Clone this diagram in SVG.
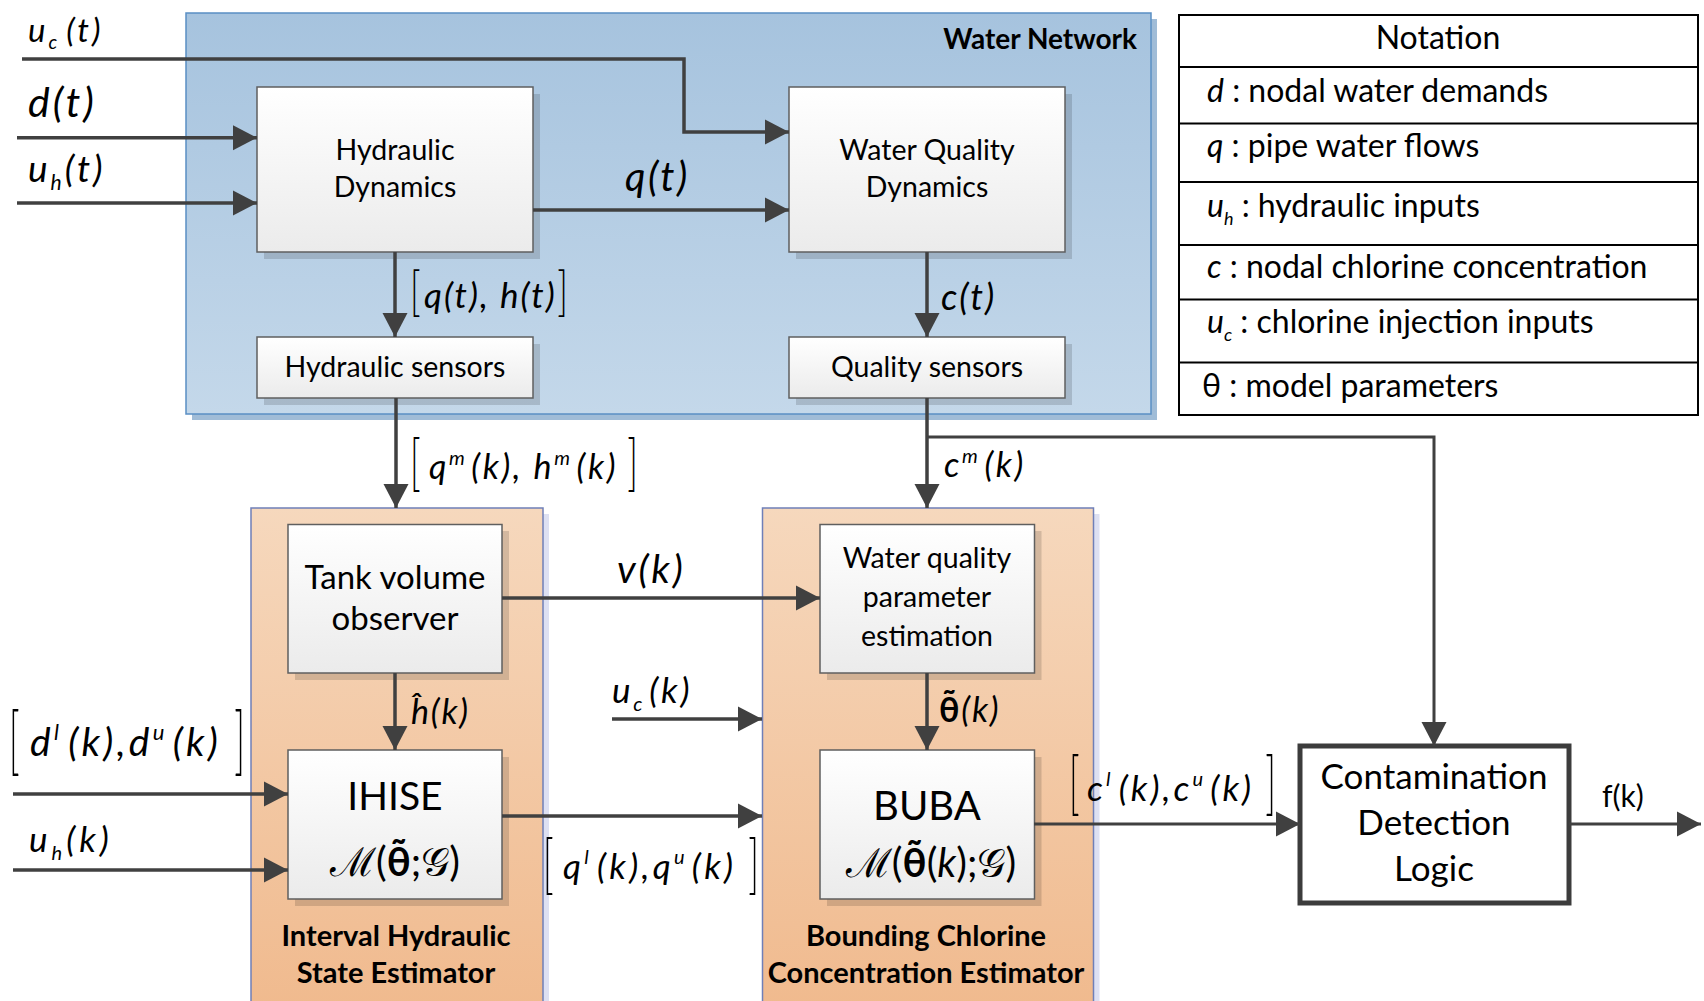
<svg xmlns="http://www.w3.org/2000/svg" width="1704" height="1001" viewBox="0 0 1704 1001">
<defs>
  <linearGradient id="gNode" x1="0" y1="0" x2="0" y2="1">
    <stop offset="0" stop-color="#ffffff"/>
    <stop offset="1" stop-color="#ebebeb"/>
  </linearGradient>
  <linearGradient id="gBlue" x1="0" y1="0" x2="0" y2="1">
    <stop offset="0" stop-color="#a6c3de"/>
    <stop offset="1" stop-color="#c4d8ea"/>
  </linearGradient>
  <linearGradient id="gOrange" x1="0" y1="0" x2="0" y2="1">
    <stop offset="0" stop-color="#f6d8bd"/>
    <stop offset="1" stop-color="#f0ba8e"/>
  </linearGradient>
  <marker id="arr" markerUnits="userSpaceOnUse" markerWidth="26" markerHeight="26" refX="24" refY="13" orient="auto">
    <path d="M0,0.5 L24,13 L0,25.5 z" fill="#404040"/>
  </marker>
</defs>
<style>
  text { font-family: Lato, "Open Sans", "Liberation Sans", sans-serif; fill: #000; }
  .node { fill: url(#gNode); stroke: #5f5f5f; stroke-width: 1.5; }
  .shadow { fill: #000; opacity: 0.14; }
  .lbl { font-size: 28.5px; text-anchor: middle; }
  .big { font-size: 33px; text-anchor: middle; }
  .ttl { font-size: 29px; font-weight: bold; text-anchor: middle; }
  .m { font-style: italic; }
  .tab { font-size: 32px; }
  .conn path { fill: none; stroke: #404040; stroke-width: 3.5; }
  .conn path.a { marker-end: url(#arr); }
  .br { font-size: 40px; font-weight: 300; font-style: normal; }
  .brr { font-size: 40px; font-weight: 300; font-style: normal; text-anchor: end; }
</style>

<!-- containers -->
<g id="water-network">
  <rect x="192" y="19" width="965" height="401" fill="#a0bcd7"/>
  <rect x="186" y="13" width="965" height="401" fill="url(#gBlue)" stroke="#5a8fc4" stroke-width="1.5"/>
  <text x="1137" y="49" style="font-size:28px;font-weight:bold;text-anchor:end">Water Network</text>
</g>
<g id="ihse-container">
  <rect x="257" y="514" width="292" height="500" fill="#dde0f2"/>
  <rect x="251" y="508" width="292" height="500" fill="url(#gOrange)" stroke="#6f7fb8" stroke-width="1.5"/>
  <text x="396" y="946" class="ttl">Interval Hydraulic</text>
  <text x="396" y="983" class="ttl">State Estimator</text>
</g>
<g id="bcce-container">
  <rect x="768.5" y="514" width="331" height="500" fill="#dde0f2"/>
  <rect x="762.5" y="508" width="331" height="500" fill="url(#gOrange)" stroke="#6f7fb8" stroke-width="1.5"/>
  <text x="926" y="946" class="ttl">Bounding Chlorine</text>
  <text x="926" y="983" class="ttl">Concentration Estimator</text>
</g>

<!-- nodes -->
<g id="hydraulic-dynamics">
  <rect class="shadow" x="264" y="94" width="276" height="165"/>
  <rect class="node" x="257" y="87" width="276" height="165"/>
  <text x="395" y="160" class="lbl">Hydraulic</text>
  <text x="395" y="197" class="lbl">Dynamics</text>
</g>
<g id="water-quality-dynamics">
  <rect class="shadow" x="796" y="94" width="276" height="165"/>
  <rect class="node" x="789" y="87" width="276" height="165"/>
  <text x="927" y="160" class="lbl">Water Quality</text>
  <text x="927" y="197" class="lbl">Dynamics</text>
</g>
<g id="hydraulic-sensors">
  <rect class="shadow" x="264" y="344" width="276" height="61"/>
  <rect class="node" x="257" y="337" width="276" height="61"/>
  <text x="395" y="377" class="lbl">Hydraulic sensors</text>
</g>
<g id="quality-sensors">
  <rect class="shadow" x="796" y="344" width="276" height="61"/>
  <rect class="node" x="789" y="337" width="276" height="61"/>
  <text x="927" y="377" class="lbl">Quality sensors</text>
</g>
<g id="tank-volume-observer">
  <rect class="shadow" x="295" y="531" width="214" height="149"/>
  <rect class="node" x="288" y="524.5" width="214" height="148.5"/>
  <text x="395" y="589" class="big">Tank volume</text>
  <text x="395" y="630" class="big">observer</text>
</g>
<g id="ihise">
  <rect class="shadow" x="295" y="757" width="214" height="149"/>
  <rect class="node" x="288" y="750" width="214" height="149"/>
  <text x="395" y="810" style="font-size:39px;text-anchor:middle">IHISE</text>
  <text x="395" y="876" style="font-size:40px;text-anchor:middle">ℳ(<tspan font-weight="bold">θ̃</tspan>;𝒢)</text>
</g>
<g id="wq-parameter-estimation">
  <rect class="shadow" x="827" y="531" width="214.5" height="149"/>
  <rect class="node" x="820" y="524.5" width="214.5" height="148.5"/>
  <text x="927" y="568" class="lbl">Water quality</text>
  <text x="927" y="607" class="lbl">parameter</text>
  <text x="927" y="646" class="lbl">estimation</text>
</g>
<g id="buba">
  <rect class="shadow" x="827" y="757" width="214.5" height="149"/>
  <rect class="node" x="820" y="750" width="214.5" height="149"/>
  <text x="927" y="820" style="font-size:40px;text-anchor:middle">BUBA</text>
  <text x="931" y="877" style="font-size:40px;text-anchor:middle">ℳ(<tspan font-weight="bold">θ̃</tspan>(<tspan font-style="italic">k</tspan>);𝒢)</text>
</g>
<g id="contamination-detection-logic">
  <rect x="1300" y="746" width="269" height="157" fill="#fff" stroke="#3c3c3c" stroke-width="5"/>
  <text x="1434" y="789" style="font-size:35px;text-anchor:middle">Contamination</text>
  <text x="1434" y="835" style="font-size:35px;text-anchor:middle">Detection</text>
  <text x="1434" y="881" style="font-size:35px;text-anchor:middle">Logic</text>
</g>
<g id="notation">
  <rect x="1179" y="15" width="519" height="400" fill="#fff" stroke="#000" stroke-width="2"/>
  <path d="M1179,67 H1698 M1179,123.5 H1698 M1179,182 H1698 M1179,245 H1698 M1179,299.5 H1698 M1179,362.5 H1698" stroke="#000" stroke-width="2" fill="none"/>
  <text x="1438" y="49" class="tab" text-anchor="middle">Notation</text>
  <text x="1207" y="102" class="tab"><tspan class="m">d</tspan>  : nodal water demands</text>
  <text x="1207" y="157" class="tab"><tspan class="m">q</tspan>  : pipe water flows</text>
  <text x="1207" y="217" class="tab"><tspan class="m">u</tspan><tspan class="m" font-size="18" dy="8">h</tspan><tspan dy="-8"> : hydraulic inputs</tspan></text>
  <text x="1207" y="278" class="tab"><tspan class="m">c</tspan> : nodal chlorine concentration</text>
  <text x="1207" y="333" class="tab"><tspan class="m">u</tspan><tspan class="m" font-size="18" dy="8">c</tspan><tspan dy="-8">  : chlorine injection inputs</tspan></text>
  <text x="1202" y="397" class="tab">θ : model parameters</text>
</g>

<!-- connectors -->
<g id="connectors" class="conn">
  <path class="a" d="M22,59 H684 V132 H789"/>
  <path class="a" d="M17,137.7 H257"/>
  <path class="a" d="M17,203 H257"/>
  <path class="a" d="M533,210 H789"/>
  <path class="a" d="M395,252 V337"/>
  <path class="a" d="M927,252 V337"/>
  <path class="a" d="M396,398 V508"/>
  <path class="a" d="M927,398 V508"/>
  <path class="a" d="M927,437 H1434 V746" style="stroke-width:3"/>
  <path class="a" d="M502,598 H820"/>
  <path class="a" d="M395,673 V750"/>
  <path class="a" d="M927,673 V750"/>
  <path class="a" d="M13,794 H288"/>
  <path class="a" d="M13,870 H288"/>
  <path class="a" d="M502,816 H762"/>
  <path class="a" d="M612,719 H762"/>
  <path class="a" d="M1034,824 H1300" style="stroke-width:3"/>
  <path class="a" d="M1569,824 H1701" style="stroke-width:3"/>
</g>

<!-- connector labels -->
<g id="labels">
  <text x="28" y="42" class="m" font-size="33" letter-spacing="3">u<tspan font-size="19" dy="7">c</tspan><tspan dy="-7" dx="6">(t)</tspan></text>
  <text x="28" y="117" class="m" font-size="41" letter-spacing="3">d(t)</text>
  <text x="28" y="182" class="m" font-size="37" letter-spacing="3">u<tspan font-size="21" dy="8">h</tspan><tspan dy="-8">(t)</tspan></text>
  <text x="625" y="191" class="m" font-size="40" letter-spacing="2.5">q(t)</text>
  <text x="941" y="310" class="m" font-size="36" letter-spacing="2">c(t)</text>
  <g>
    <text x="410" y="310" class="br" transform="translate(410,310) scale(0.9,1.32) translate(-410,-310)">[</text>
    <text x="424" y="308" class="m" font-size="35" letter-spacing="2">q(t), h(t)</text>
    <text x="568" y="310" class="brr" transform="translate(568,310) scale(0.9,1.32) translate(-568,-310)">]</text>
  </g>
  <g>
    <text x="410" y="484" class="br" transform="translate(410,484) scale(0.9,1.55) translate(-410,-484)">[</text>
    <text x="429" y="479" class="m" font-size="34" letter-spacing="2.6">q<tspan font-size="20" dy="-14">m</tspan><tspan dy="14" dx="4">(k), h</tspan><tspan font-size="20" dy="-14">m</tspan><tspan dy="14" dx="4">(k)</tspan></text>
    <text x="638" y="484" class="brr" transform="translate(638,484) scale(0.9,1.55) translate(-638,-484)">]</text>
  </g>
  <text x="944" y="477" class="m" font-size="34" letter-spacing="2.6">c<tspan font-size="20" dy="-14">m</tspan><tspan dy="14" dx="4">(k)</tspan></text>
  <text x="617" y="583" class="m" font-size="39" letter-spacing="2.8">v(k)</text>
  <text x="612" y="703" class="m" font-size="35" letter-spacing="2.8">u<tspan font-size="20" dy="8">c</tspan><tspan dy="-8" dx="4">(k)</tspan></text>
  <text x="411" y="724" class="m" font-size="34" letter-spacing="1.8">ĥ(k)</text>
  <text x="939" y="722" font-size="34" letter-spacing="1.8"><tspan font-weight="bold">θ̃</tspan><tspan class="m">(k)</tspan></text>
  <g>
    <text x="9" y="766" class="br" transform="translate(9,766) scale(0.9,1.87) translate(-9,-766)">[</text>
    <text x="30" y="756" class="m" font-size="39" letter-spacing="3.3">d<tspan font-size="22" dy="-16">l</tspan><tspan dy="16" dx="6">(k),d</tspan><tspan font-size="22" dy="-16">u</tspan><tspan dy="16" dx="5">(k)</tspan></text>
    <text x="245" y="766" class="brr" transform="translate(245,766) scale(0.9,1.87) translate(-245,-766)">]</text>
  </g>
  <text x="29" y="852" class="m" font-size="35" letter-spacing="4">u<tspan font-size="20" dy="8">h</tspan><tspan dy="-8">(k)</tspan></text>
  <g>
    <text x="543" y="886" class="br" transform="translate(543,886) scale(0.9,1.64) translate(-543,-886)">[</text>
    <text x="563" y="879" class="m" font-size="35" letter-spacing="3.3">q<tspan font-size="20" dy="-15">l</tspan><tspan dy="15" dx="5">(k),q</tspan><tspan font-size="20" dy="-15">u</tspan><tspan dy="15" dx="4">(k)</tspan></text>
    <text x="759" y="886" class="brr" transform="translate(759,886) scale(0.9,1.64) translate(-759,-886)">]</text>
  </g>
  <g>
    <text x="1069" y="807" class="br" transform="translate(1069,807) scale(0.9,1.72) translate(-1069,-807)">[</text>
    <text x="1087" y="801" class="m" font-size="35" letter-spacing="3.1">c<tspan font-size="20" dy="-15">l</tspan><tspan dy="15" dx="5">(k),c</tspan><tspan font-size="20" dy="-15">u</tspan><tspan dy="15" dx="4">(k)</tspan></text>
    <text x="1276" y="807" class="brr" transform="translate(1276,807) scale(0.9,1.72) translate(-1276,-807)">]</text>
  </g>
  <text x="1602" y="807" font-size="30">f(k)</text>
</g>
</svg>
